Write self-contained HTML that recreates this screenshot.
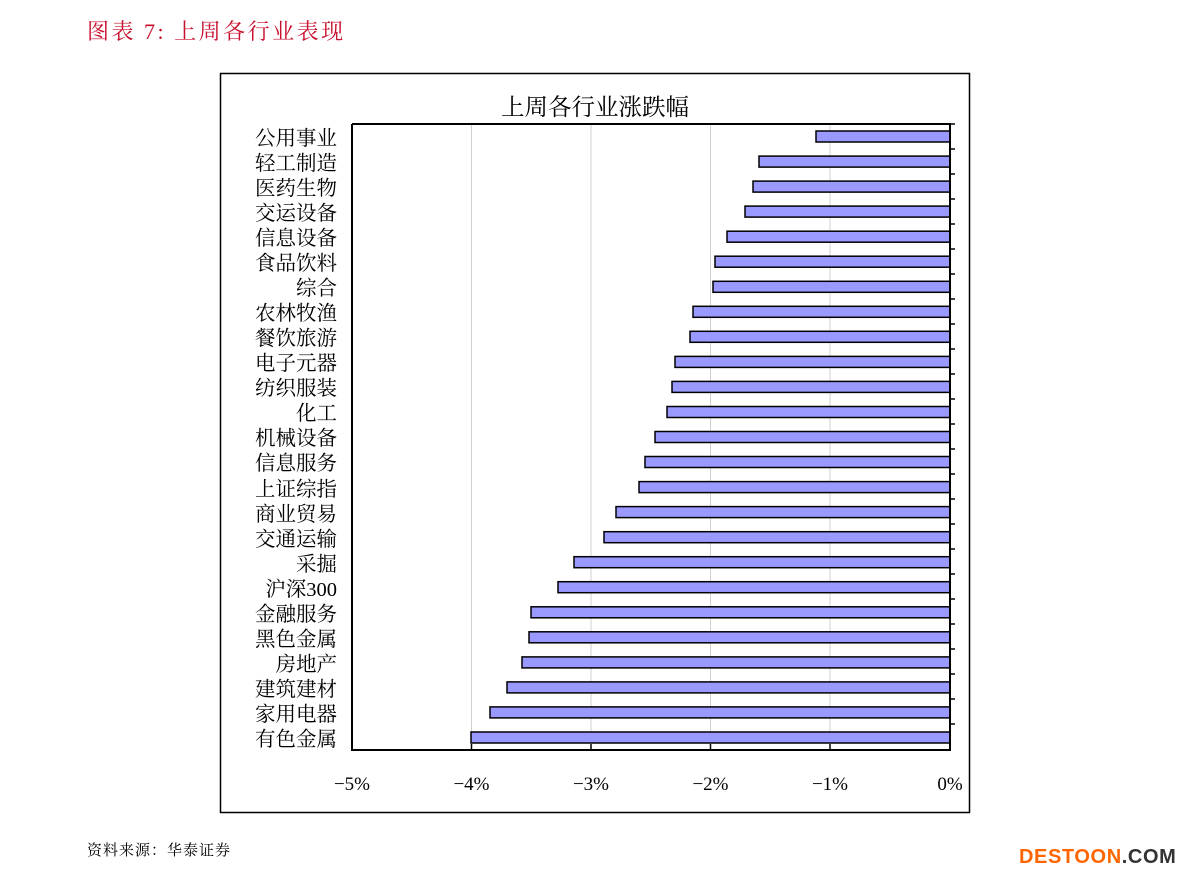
<!DOCTYPE html>
<html><head><meta charset="utf-8"><style>
html,body{margin:0;padding:0;background:#fff;}
body{width:1191px;height:878px;overflow:hidden;position:relative;}
</style></head><body>
<svg width="1191" height="878" xmlns="http://www.w3.org/2000/svg" style="position:absolute;left:0;top:0">
<text x="87" y="39" font-family="'Liberation Serif','Noto Serif CJK SC',serif" font-size="22" letter-spacing="2.5" fill="#c8102e">图表 7:  上周各行业表现</text>
<rect x="220.5" y="73.5" width="749" height="739" fill="#fff" stroke="#000" stroke-width="1.5"/>
<text x="595" y="115" text-anchor="middle" font-family="'Liberation Serif','Noto Serif CJK SC',serif" font-size="23.5" fill="#000">上周各行业涨跌幅</text>
<g stroke="#d0d0d0" stroke-width="1">
<line x1="471.5" y1="124" x2="471.5" y2="750"/>
<line x1="591" y1="124" x2="591" y2="750"/>
<line x1="710.5" y1="124" x2="710.5" y2="750"/>
<line x1="830" y1="124" x2="830" y2="750"/>
</g>
<g fill="#9999ff" stroke="#000" stroke-width="1.5">
<rect x="816" y="131" width="134" height="11"/>
<rect x="759" y="156.1" width="191" height="11"/>
<rect x="753" y="181.1" width="197" height="11"/>
<rect x="745" y="206.1" width="205" height="11"/>
<rect x="727" y="231.2" width="223" height="11"/>
<rect x="715" y="256.2" width="235" height="11"/>
<rect x="713" y="281.3" width="237" height="11"/>
<rect x="693" y="306.3" width="257" height="11"/>
<rect x="690" y="331.3" width="260" height="11"/>
<rect x="675" y="356.4" width="275" height="11"/>
<rect x="672" y="381.4" width="278" height="11"/>
<rect x="667" y="406.5" width="283" height="11"/>
<rect x="655" y="431.5" width="295" height="11"/>
<rect x="645" y="456.5" width="305" height="11"/>
<rect x="639" y="481.6" width="311" height="11"/>
<rect x="616" y="506.6" width="334" height="11"/>
<rect x="604" y="531.7" width="346" height="11"/>
<rect x="574" y="556.7" width="376" height="11"/>
<rect x="558" y="581.7" width="392" height="11"/>
<rect x="531" y="606.8" width="419" height="11"/>
<rect x="529" y="631.8" width="421" height="11"/>
<rect x="522" y="656.9" width="428" height="11"/>
<rect x="507" y="681.9" width="443" height="11"/>
<rect x="490" y="706.9" width="460" height="11"/>
<rect x="471" y="732" width="479" height="11"/>
</g>
<g stroke="#000" stroke-width="2" fill="none">
<polyline points="352,124 950,124 950,750 352,750 352,124"/>
</g>
<g stroke="#000" stroke-width="1.5">
<line x1="950" y1="149" x2="955" y2="149"/><line x1="950" y1="174" x2="955" y2="174"/>
<line x1="950" y1="199" x2="955" y2="199"/><line x1="950" y1="224" x2="955" y2="224"/>
<line x1="950" y1="249" x2="955" y2="249"/><line x1="950" y1="274" x2="955" y2="274"/>
<line x1="950" y1="299" x2="955" y2="299"/><line x1="950" y1="324" x2="955" y2="324"/>
<line x1="950" y1="349" x2="955" y2="349"/><line x1="950" y1="374" x2="955" y2="374"/>
<line x1="950" y1="399" x2="955" y2="399"/><line x1="950" y1="424" x2="955" y2="424"/>
<line x1="950" y1="449" x2="955" y2="449"/><line x1="950" y1="474" x2="955" y2="474"/>
<line x1="950" y1="499" x2="955" y2="499"/><line x1="950" y1="524" x2="955" y2="524"/>
<line x1="950" y1="549" x2="955" y2="549"/><line x1="950" y1="574" x2="955" y2="574"/>
<line x1="950" y1="599" x2="955" y2="599"/><line x1="950" y1="624" x2="955" y2="624"/>
<line x1="950" y1="649" x2="955" y2="649"/><line x1="950" y1="674" x2="955" y2="674"/>
<line x1="950" y1="699" x2="955" y2="699"/><line x1="950" y1="724" x2="955" y2="724"/>
<line x1="950" y1="124" x2="955" y2="124"/>
<line x1="471.5" y1="744" x2="471.5" y2="750"/><line x1="591" y1="744" x2="591" y2="750"/>
<line x1="710.5" y1="744" x2="710.5" y2="750"/><line x1="830" y1="744" x2="830" y2="750"/>
</g>
<g font-family="'Liberation Serif','Noto Serif CJK SC',serif" font-size="20.5" fill="#000" text-anchor="end" transform="translate(0,2)">
<text x="337" y="143">公用事业</text>
<text x="337" y="168">轻工制造</text>
<text x="337" y="193">医药生物</text>
<text x="337" y="218">交运设备</text>
<text x="337" y="243">信息设备</text>
<text x="337" y="268">食品饮料</text>
<text x="337" y="293">综合</text>
<text x="337" y="318">农林牧渔</text>
<text x="337" y="343">餐饮旅游</text>
<text x="337" y="368">电子元器</text>
<text x="337" y="393">纺织服装</text>
<text x="337" y="418">化工</text>
<text x="337" y="443">机械设备</text>
<text x="337" y="468">信息服务</text>
<text x="337" y="494">上证综指</text>
<text x="337" y="519">商业贸易</text>
<text x="337" y="544">交通运输</text>
<text x="337" y="569">采掘</text>
<text x="337" y="594">沪深300</text>
<text x="337" y="619">金融服务</text>
<text x="337" y="644">黑色金属</text>
<text x="337" y="669">房地产</text>
<text x="337" y="694">建筑建材</text>
<text x="337" y="719">家用电器</text>
<text x="337" y="744">有色金属</text>
</g>
<g font-family="'Liberation Serif','Noto Serif CJK SC',serif" font-size="19" fill="#000" text-anchor="middle">
<text x="352" y="790">−5%</text>
<text x="471.5" y="790">−4%</text>
<text x="591" y="790">−3%</text>
<text x="710.5" y="790">−2%</text>
<text x="830" y="790">−1%</text>
<text x="950" y="790">0%</text>
</g>
<text x="87" y="855" font-family="'Liberation Serif','Noto Serif CJK SC',serif" font-size="15" letter-spacing="1" fill="#000">资料来源：华泰证券</text>
<text x="1019" y="863" font-family="'Liberation Sans','DejaVu Sans',sans-serif" font-size="20" font-weight="bold" fill="#ff6600" letter-spacing="0.6">DESTOON<tspan fill="#333">.COM</tspan></text>
</svg>
</body></html>
